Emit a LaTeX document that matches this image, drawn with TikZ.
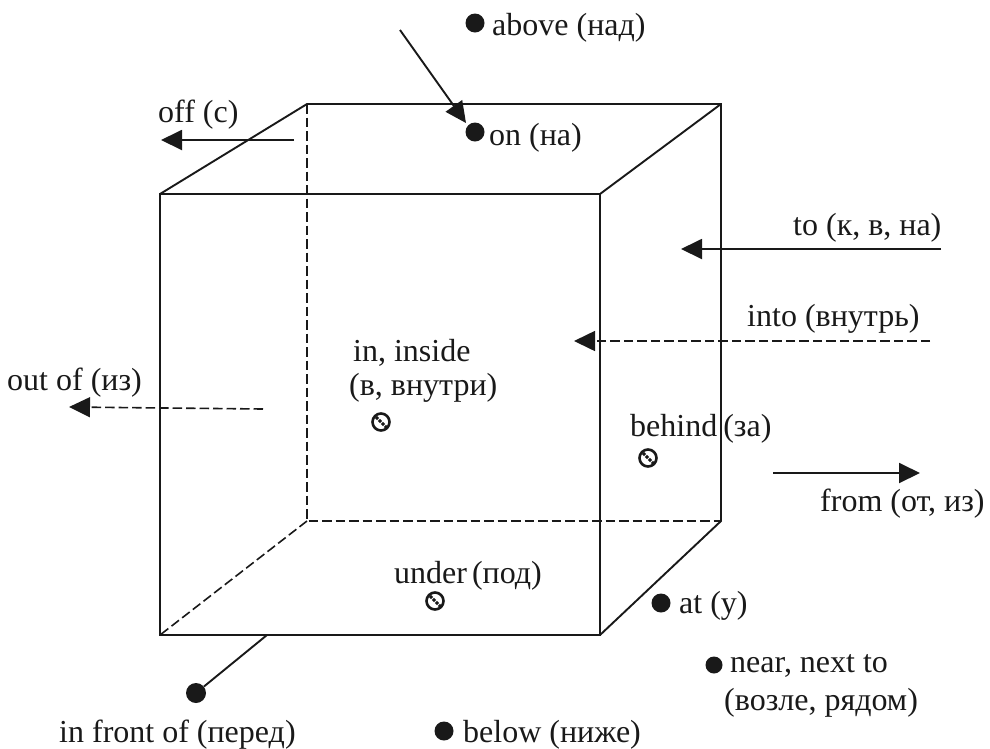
\documentclass[tikz,border=0pt]{standalone}
\usepackage{fontspec}
\setmainfont{Liberation Serif}
\usetikzlibrary{arrows.meta}
\tikzset{
  edge/.style={line width=1.9pt,black!90},
  hid/.style={line width=1.6pt,black!90,dash pattern=on 9.5pt off 4pt},
  arr/.style={line width=1.9pt,black!90,-{Triangle[length=21pt,width=20pt]},shorten >=0pt},
  darr/.style={line width=1.6pt,black!90,dash pattern=on 9.5pt off 4pt,-{Triangle[length=21pt,width=20pt,sep=0pt]}},
  lab/.style={inner sep=0pt,anchor=base west,font=\fontsize{32}{34}\selectfont,text=black!90},
  dot/.style={circle,fill=black!90,inner sep=0pt,minimum size=#1},
  ring/.style={circle,draw=black!90,line width=2.6pt,fill=white,inner sep=0pt,minimum size=17pt,
    path picture={\draw[black!90,line width=3pt,dash pattern=on 3pt off 1.2pt]
      (path picture bounding box.center)++(-8pt,8pt) -- ++(16pt,-16pt);}},
}
\begin{document}
\begin{tikzpicture}[x=1pt,y=-1pt]
\useasboundingbox (0,0) rectangle (990,748);
\coordinate (fa) at (160,194); \coordinate (fb) at (600,194);
\coordinate (fc) at (600,635); \coordinate (fd) at (160,635);
\coordinate (ba) at (307,104); \coordinate (bb) at (721,104);
\coordinate (bc) at (721,521); \coordinate (bd) at (307,521);
\draw[hid] (ba) -- (bd) -- (bc);
\draw[hid] (bd) -- (fd);
\draw[edge,line join=miter] (fa) -- (fb) -- (fc) -- (fd) -- cycle;
\draw[edge,line join=miter] (fa) -- (ba) -- (bb) -- (bc) -- (fc);
\draw[edge] (fb) -- (bb);
% dots
\node[dot=19pt] (above) at (475,23) {};
\node[dot=19pt] (on) at (475,132) {};
\node[dot=19pt] (at) at (661,603) {};
\node[dot=17pt] (near) at (714,665) {};
\node[dot=19pt] (below) at (444,731) {};
\node[dot=20pt] (front) at (196,693) {};
\node[ring] (r1) at (381,422) {};
\node[ring] (r2) at (648,458) {};
\node[ring] (r3) at (435,601) {};
% connector ends
\coordinate (e1) at (400,30); \coordinate (e1t) at (466,123);
\coordinate (e2) at (294,140); \coordinate (e2t) at (161,140);
\coordinate (e3) at (941,249); \coordinate (e3t) at (681,249);
\coordinate (e4) at (930,341); \coordinate (e4t) at (574,341);
\coordinate (e5) at (263,409); \coordinate (e5t) at (69,407);
\coordinate (e6) at (773,473); \coordinate (e6t) at (920,473);
\coordinate (e7) at (267,635);
\draw[arr] (e1) -- (e1t);
\draw[arr] (e2) -- (e2t);
\draw[arr] (e3) -- (e3t);
\draw[darr] (e4) -- (e4t);
\draw[darr] (e5) -- (e5t);
\draw[arr] (e6) -- (e6t);
\draw[edge] (e7) -- (front);
% labels
\node[lab] (t1) at (492,35) {above (над)};
\node[lab] (t2) at (489,145) {on (на)};
\node[lab] (t3) at (158,122) {off (с)};
\node[lab] (t4) at (793,235) {to (к, в, на)};
\node[lab] (t5) at (747,326) {into (внутрь)};
\node[lab] (t6) at (7,390) {out of (из)};
\node[lab] (t7) at (353,361) {in, inside};
\node[lab] (t8) at (349,395) {(в, внутри)};
\node[lab] (t9) at (630,436) {behind\hskip 6pt(за)};
\node[lab] (t10) at (820,511) {from (от, из)};
\node[lab] (t11) at (394,583) {under\hskip 5pt(под)};
\node[lab] (t12) at (679,613) {at (у)};
\node[lab] (t13) at (730,672) {near, next to};
\node[lab] (t14) at (724,710) {(возле, рядом)};
\node[lab] (t15) at (59,742) {in front of (перед)};
\node[lab] (t16) at (463,742) {below (ниже)};
\end{tikzpicture}
\end{document}
